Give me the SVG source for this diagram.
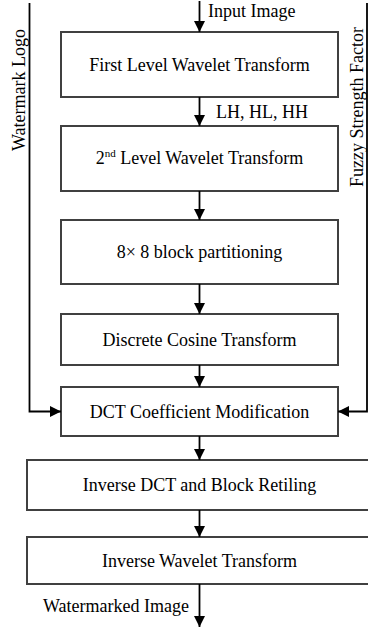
<svg xmlns="http://www.w3.org/2000/svg" width="368" height="628" viewBox="0 0 368 628">
<style>
text{font-family:"Liberation Serif","Times New Roman",serif;font-size:18px;fill:#000}
.box{fill:#fff;stroke:#404040;stroke-width:2}
.c{text-anchor:middle}
.ln{fill:none;stroke:#000;stroke-width:1.8}
</style>
<defs>
<marker id="ah" markerUnits="userSpaceOnUse" markerWidth="11" markerHeight="11" refX="11" refY="5.5" orient="auto">
<path d="M0,0 L11,5.5 L0,11 z" fill="#000"/>
</marker>
</defs>
<rect width="368" height="628" fill="#fff"/>
<g id="n1"><rect class="box" x="61" y="32" width="277" height="65"/><text class="c" x="199.5" y="70.5">First Level Wavelet Transform</text></g>
<g id="n2"><rect class="box" x="61" y="126" width="277" height="65"/><text class="c" x="199.5" y="164">2<tspan font-size="11" dy="-7">nd</tspan><tspan dy="7"> Level Wavelet Transform</tspan></text></g>
<g id="n3"><rect class="box" x="61" y="220" width="277" height="64"/><text class="c" x="199.5" y="258">8× 8 block partitioning</text></g>
<g id="n4"><rect class="box" x="61" y="314" width="277" height="51"/><text class="c" x="199.5" y="345.5">Discrete Cosine Transform</text></g>
<g id="n5"><rect class="box" x="61" y="387" width="277" height="49"/><text class="c" x="199.5" y="417.5">DCT Coefficient Modification</text></g>
<g id="n6"><rect class="box" x="27" y="460" width="345" height="50"/><text class="c" x="199.5" y="491">Inverse DCT and Block Retiling</text></g>
<g id="n7"><rect class="box" x="27" y="537" width="345" height="47"/><text class="c" x="199.5" y="566.5">Inverse Wavelet Transform</text></g>
<g id="connectors">
<line class="ln" x1="199.5" y1="1" x2="199.5" y2="32" marker-end="url(#ah)"/>
<line class="ln" x1="199.5" y1="97" x2="199.5" y2="126" marker-end="url(#ah)"/>
<line class="ln" x1="199.5" y1="191" x2="199.5" y2="220" marker-end="url(#ah)"/>
<line class="ln" x1="199.5" y1="284" x2="199.5" y2="314" marker-end="url(#ah)"/>
<line class="ln" x1="199.5" y1="365" x2="199.5" y2="387" marker-end="url(#ah)"/>
<line class="ln" x1="199.5" y1="436" x2="199.5" y2="460" marker-end="url(#ah)"/>
<line class="ln" x1="199.5" y1="510" x2="199.5" y2="537" marker-end="url(#ah)"/>
<line class="ln" x1="199.5" y1="584" x2="199.5" y2="627" marker-end="url(#ah)"/>
<polyline class="ln" points="29.5,3 29.5,411.5 61,411.5" marker-end="url(#ah)"/>
<polyline class="ln" points="367,3 367,411.5 338,411.5" marker-end="url(#ah)"/>
</g>
<g id="labels">
<text x="208" y="17">Input Image</text>
<text x="216" y="118">LH, HL, HH</text>
<text x="189" y="612" text-anchor="end">Watermarked Image</text>
<text class="c" transform="translate(25,90) rotate(-90)">Watermark Logo</text>
<text class="c" transform="translate(363,107) rotate(-90)">Fuzzy Strength Factor</text>
</g>
</svg>
